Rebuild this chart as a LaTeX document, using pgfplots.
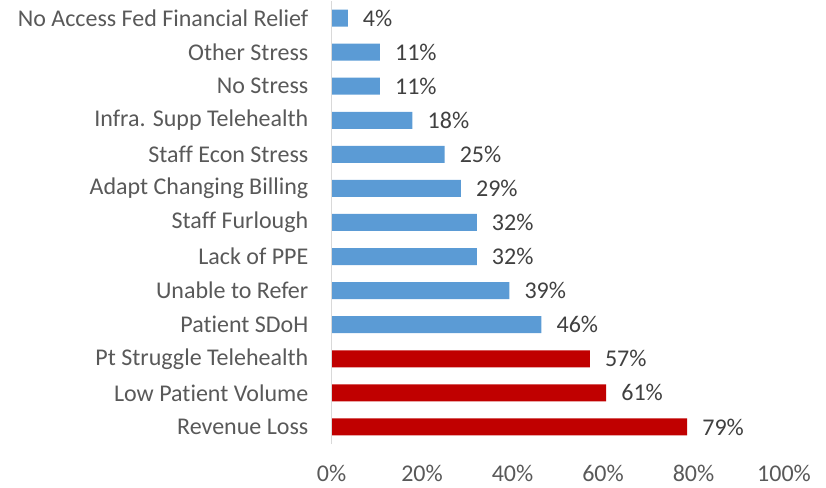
\documentclass[border=0pt]{standalone}
\usepackage{pgfplots}
\pgfplotsset{compat=1.18}
\usepackage{fontspec}
\setmainfont{Carlito}[Ligatures=NoCommon]
\definecolor{txt}{HTML}{595959}
\definecolor{valtxt}{HTML}{404040}
\definecolor{barblue}{HTML}{5B9BD5}
\definecolor{barred}{HTML}{C00000}
\definecolor{axline}{HTML}{D9D9D9}
\begin{document}
\fontsize{24}{28}\selectfont
\begin{tikzpicture}
\begin{axis}[
  at={(0,0)}, anchor=south west,
  scale only axis,
  width=452.5pt, height=443pt,
  xbar, bar width=17pt, bar shift=0pt,
  xmin=0, xmax=100,
  ymin=-0.5, ymax=12.5,
  xtick={0,20,40,60,80,100},
  xticklabels={0\%,20\%,40\%,60\%,80\%,100\%},
  ytick={0,...,12},
  yticklabels={Revenue Loss,Low Patient Volume,Pt Struggle Telehealth,Patient SDoH,Unable to Refer,Lack of PPE,Staff Furlough,Adapt Changing Billing,Staff Econ Stress,Infra. Supp Telehealth,No Stress,Other Stress,No Access Fed Financial Relief},
  major tick length=0pt,
  axis line style={draw=none},
  /pgf/number format/assume math mode=true,
  ticklabel style={font=\fontsize{24}{28}\selectfont, text=txt},
  yticklabel style={inner sep=0pt, xshift=-23pt},
  xticklabel style={inner sep=0pt, yshift=-21pt},
  nodes near coords={\pgfmathprintnumber[fixed,precision=0]{\pgfplotspointmeta}\%},
  point meta=x,
  nodes near coords style={anchor=west, inner sep=0pt, xshift=15pt, text=valtxt, font=\fontsize{24}{28}\selectfont},
  clip=false,
]
\addplot[fill=barblue, draw=none] coordinates {
  (46.4,3) (39.3,4) (32.1,5) (32.1,6) (28.6,7) (25.0,8) (17.9,9) (10.7,10) (10.7,11) (3.6,12)
};
\addplot[fill=barred, draw=none] coordinates {
  (78.6,0) (60.7,1) (57.1,2)
};
\draw[axline, line width=1.5pt] (axis cs:0,-0.5) -- (axis cs:0,12.5);
\end{axis}
\path[use as bounding box] (-331.5pt,-43pt) rectangle (494.5pt,444pt);
\end{tikzpicture}
\end{document}
